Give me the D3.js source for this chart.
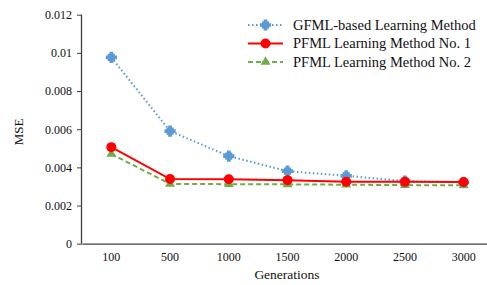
<!DOCTYPE html>
<html><head><meta charset="utf-8">
<script src="https://cdn.jsdelivr.net/npm/d3@7"></script>
<style>body{margin:0;background:#fff}svg{display:block}svg text{font-family:'Liberation Serif','Times New Roman',Times,serif}</style>
</head><body>
<svg id="c" width="487" height="285"></svg>
<script>
const categories = ["100","500","1000","1500","2000","2500","3000"];
const gfml  = [0.00976,0.0059,0.00459,0.0038,0.00356,0.00328,0.00321];
const pfml1 = [0.00506,0.00339,0.00338,0.00333,0.00325,0.00324,0.00323];
const pfml2 = [0.0047,0.00313,0.00312,0.00311,0.00309,0.00307,0.00306];
const yTicks = [0,0.002,0.004,0.006,0.008,0.01,0.012];
const seriesNames = ["GFML-based Learning Method","PFML Learning Method No. 1","PFML Learning Method No. 2"];

const svg = d3.select("#c");
const x = d3.scaleBand().domain(categories).range([82, 493]);
const y = d3.scaleLinear().domain([0,0.012]).range([243.7, 14.7]);
const cx = d => x(d) + x.bandwidth()/2;

// axes
const ya = svg.append("g").attr("transform","translate(82,0)")
  .call(d3.axisLeft(y).tickValues(yTicks).tickSize(5).tickPadding(5).tickFormat(d=>String(+d.toFixed(3))));
ya.attr("font-family",null);
ya.select(".domain").attr("stroke","#404040").attr("stroke-width",1.3).attr("d","M-0.5,14.7V243.7");
ya.selectAll(".tick line").attr("stroke","#404040");
ya.selectAll("text").attr("font-size",12).attr("fill","#111");

const xa = svg.append("g").attr("transform","translate(0,243.7)")
  .call(d3.axisBottom(x).tickSize(0).tickPadding(9));
xa.attr("font-family",null);
xa.select(".domain").attr("stroke","#404040").attr("stroke-width",1.3);
xa.selectAll("text").attr("font-size",12).attr("fill","#111");

svg.append("text").attr("x",287).attr("y",279).attr("text-anchor","middle")
  .attr("font-size",13.5).attr("fill","#111").text("Generations");
svg.append("text").attr("transform","translate(23,132) rotate(-90)").attr("text-anchor","middle")
  .attr("font-size",13).attr("fill","#111").text("MSE");

const series = [
  {name:seriesNames[0], vals:gfml, color:"#5B9BD5", dash:"1.5,2.5", w:2, marker:"star"},
  {name:seriesNames[1], vals:pfml1, color:"#FF0000", dash:null, w:2, marker:"circle"},
  {name:seriesNames[2], vals:pfml2, color:"#70AD47", dash:"5,3", w:2, marker:"tri"}
];
const line = d3.line().x((d,i)=>cx(categories[i])).y(d=>y(d));

function marker(g, m, color){
  if(m==="star"){
    g.append("path").attr("d",d3.symbol(d3.symbolSquare,52)()).attr("fill",color);
    g.append("path").attr("d",d3.symbol(d3.symbolCross,70)()).attr("fill",color);
  } else if(m==="circle"){
    g.append("circle").attr("r",5).attr("fill",color);
  } else {
    g.append("path").attr("d",d3.symbol(d3.symbolTriangle,42)()).attr("fill",color);
  }
}

[series[2], series[0], series[1]].forEach(s=>{
  svg.append("path").attr("d",line(s.vals)).attr("fill","none").attr("stroke",s.color)
    .attr("stroke-width",s.w).attr("stroke-dasharray",s.dash);
  s.vals.forEach((v,i)=>{
    const g = svg.append("g").attr("transform",`translate(${cx(categories[i])},${y(v)})`);
    marker(g, s.marker, s.color);
  });
});

// legend
const ly = [25, 43.5, 62];
series.forEach((s,i)=>{
  svg.append("line").attr("x1",248).attr("x2",283).attr("y1",ly[i]).attr("y2",ly[i])
    .attr("stroke",s.color).attr("stroke-width",s.w).attr("stroke-dasharray",s.dash);
  const g = svg.append("g").attr("transform",`translate(265.5,${ly[i]})`);
  marker(g, s.marker, s.color);
  svg.append("text").attr("x",293).attr("y",ly[i]+4.5)
    .attr("font-size",14.5).attr("fill","#111").text(s.name);
});
</script>
</body></html>
